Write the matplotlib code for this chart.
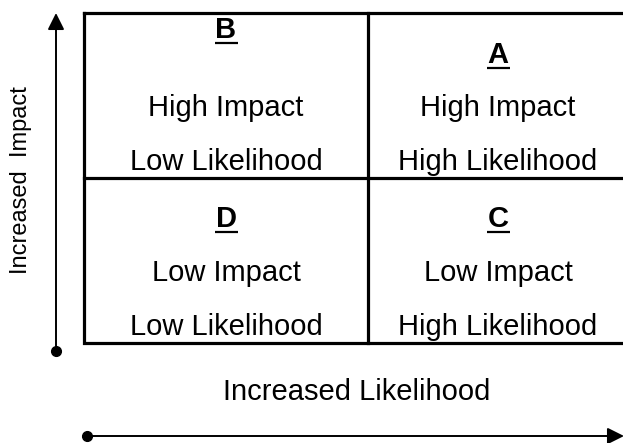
import matplotlib.pyplot as plt
from matplotlib.patches import FancyArrowPatch
from matplotlib import font_manager

plt.rcParams['font.family'] = ['Liberation Sans', 'DejaVu Sans']

# quadrant content, row by row (top row first), left to right
letters = [["B", "A"], ["D", "C"]]
impact = [["High Impact", "High Impact"], ["Low Impact", "Low Impact"]]
likelihood = [["Low Likelihood", "High Likelihood"], ["Low Likelihood", "High Likelihood"]]
x_label = "Increased Likelihood"
y_label = "Increased  Impact"

# layout in pixels (figure is drawn in a 623x443 pixel frame)
W, H = 623, 443
box_left, box_right, box_top, box_bottom = 84, 628, 13, 343
col_edges = [box_left, 368, box_right]
row_edges = [box_top, 178, box_bottom]
letter_off = [[25, 50], [49, 49]]   # baseline offsets from row top
impact_off = 103
likeli_off = 157

fig = plt.figure(figsize=(6.23, 4.43), dpi=100)
ax = fig.add_axes([0, 0, 1, 1])
ax.set_xlim(0, W)
ax.set_ylim(H, 0)
ax.axis("off")

lw = 2.3
# box and dividers
ax.plot([box_left, box_right, box_right, box_left, box_left],
        [box_top, box_top, box_bottom, box_bottom, box_top], color="black", lw=lw,
        solid_joinstyle="miter")
ax.plot([col_edges[1]] * 2, [box_top, box_bottom], color="black", lw=lw)
ax.plot([box_left, box_right], [row_edges[1]] * 2, color="black", lw=lw)

fs = 21
for r in range(2):
    for c in range(2):
        cx = (col_edges[c] + col_edges[c + 1]) / 2
        top = row_edges[r]
        ly = top + letter_off[r][c]
        ax.text(cx, ly, letters[r][c], fontsize=fs, fontweight="bold",
                ha="center", va="baseline")
        ax.plot([cx - 11.5, cx + 11.5], [ly + 5, ly + 5], color="black", lw=1.6,
                solid_capstyle="butt")
        ax.text(cx, top + impact_off, impact[r][c], fontsize=fs,
                ha="center", va="baseline")
        ax.text(cx, top + likeli_off, likelihood[r][c], fontsize=fs,
                ha="center", va="baseline")

# axis arrows
style = "-|>,head_length=1.0,head_width=0.5"
ax.add_patch(FancyArrowPatch((56, 351), (56, 13), arrowstyle=style, mutation_scale=10,
                             color="black", lw=1.4, shrinkA=0, shrinkB=0))
ax.add_patch(FancyArrowPatch((87, 436), (624, 436), arrowstyle=style, mutation_scale=10,
                             color="black", lw=1.4, shrinkA=0, shrinkB=0))
ax.plot([56], [351], "o", color="black", ms=7)
ax.plot([87], [436], "o", color="black", ms=7)

ax.text(357, 392, x_label, fontsize=fs, ha="center", va="center")

# the side label looks narrower than the rest; use a narrow face if there is one
names = {f.name for f in font_manager.fontManager.ttflist}
if "Liberation Sans Narrow" in names:
    ax.text(21, 180, y_label, fontsize=19, family="Liberation Sans Narrow",
            ha="center", va="center", rotation=90)
else:
    ax.text(21, 180, y_label, fontsize=17, ha="center", va="center", rotation=90)

fig.savefig("out.png", dpi=100)
